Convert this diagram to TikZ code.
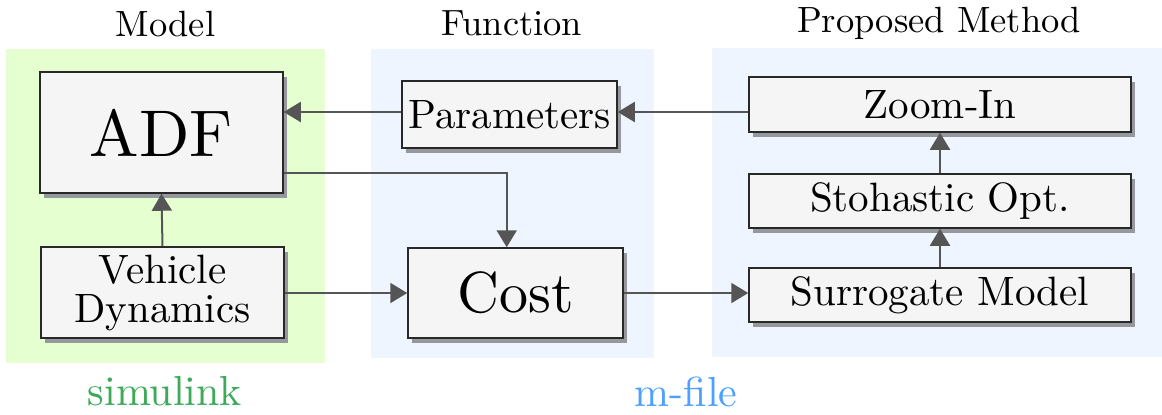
\documentclass[tikz,border=0pt]{standalone}
\usepackage{fontspec}
\setmainfont{lmroman10-regular.otf}
\usetikzlibrary{arrows.meta,shadows}
\definecolor{panelgreen}{RGB}{230,255,208}
\definecolor{panelblue}{RGB}{238,245,255}
\definecolor{boxfill}{RGB}{245,245,245}
\definecolor{boxline}{RGB}{40,40,40}
\definecolor{wirecol}{RGB}{85,85,85}
\definecolor{shade}{RGB}{150,152,158}
\definecolor{simgreen}{RGB}{60,170,90}
\definecolor{mblue}{RGB}{77,160,255}
\begin{document}
\begin{tikzpicture}[x=0.5pt,y=-0.5pt,
  block/.style={draw=boxline, line width=0.75pt, fill=boxfill, inner sep=0pt,
    drop shadow={shadow xshift=2pt, shadow yshift=-2.3pt, fill=shade, opacity=1}},
  midfont/.style={font=\fontsize{20.5}{19.5}\selectfont},
  titlefont/.style={font=\fontsize{18.25}{22}\selectfont, anchor=base},
  tagfont/.style={font=\fontsize{21}{25}\selectfont, anchor=base},
  flow/.style={draw=wirecol, line width=1pt, -{Triangle[length=8.5pt,width=10pt]}}
]
\useasboundingbox (0,0) rectangle (1162,414);

% background panels
\fill[panelgreen] (6,49) rectangle (325,363);
\fill[panelblue] (371,49) rectangle (654,358);
\fill[panelblue] (712,48) rectangle (1162,357);

% column titles
\node[titlefont] (tmodel) at (165.5,36) {Model};
\node[titlefont] (tfunc) at (512,35) {Function};
\node[titlefont] (tprop) at (939,32) {Proposed Method};

% tool labels
\node[tagfont, text=simgreen] (tsim) at (165,405) {simulink};
\node[tagfont, text=mblue] (tmfile) at (686,406.5) {m-file};

% blocks
\node[block, minimum width=121.5pt, minimum height=60.5pt,
      font=\fontsize{33}{40}\selectfont] (adf) at (161.5,132.5) {ADF};
\node[block, minimum width=121.5pt, minimum height=45.5pt, align=center,
      midfont] (veh) at (162.5,292.5) {Vehicle\\Dynamics};
\node[block, minimum width=107.5pt, minimum height=33.5pt,
      midfont] (params) at (509.5,114.5) {Parameters};
\node[block, minimum width=107.5pt, minimum height=45pt,
      font=\fontsize{29}{35}\selectfont] (cost) at (515.5,293) {Cost};
\node[block, minimum width=191pt, minimum height=27.5pt,
      midfont] (zoom) at (940,104.5) {Zoom-In};
\node[block, minimum width=191pt, minimum height=27pt,
      midfont] (stoh) at (940,201) {Stohastic Opt.};
\node[block, minimum width=191pt, minimum height=27pt,
      midfont] (surr) at (940,295) {Surrogate Model};

% connectors
\coordinate (rowtop) at (0,112);
\coordinate (rowlow) at (0,293);
\coordinate (feed) at (506.7,173);

\draw[flow] (zoom.west |- rowtop) -- (params.east |- rowtop);
\draw[flow] (params.west |- rowtop) -- (adf.east |- rowtop);
\draw[flow] (adf.east |- feed) -- (feed) -- (cost.north -| feed);
\draw[flow] (veh.east |- rowlow) -- (cost.west |- rowlow);
\draw[flow] (cost.east) -- (surr.west |- cost.east);
\draw[flow] (veh.north) -- (adf.south);
\draw[flow] (surr.north) -- (stoh.south);
\draw[flow] (stoh.north) -- (zoom.south);
\end{tikzpicture}
\end{document}
